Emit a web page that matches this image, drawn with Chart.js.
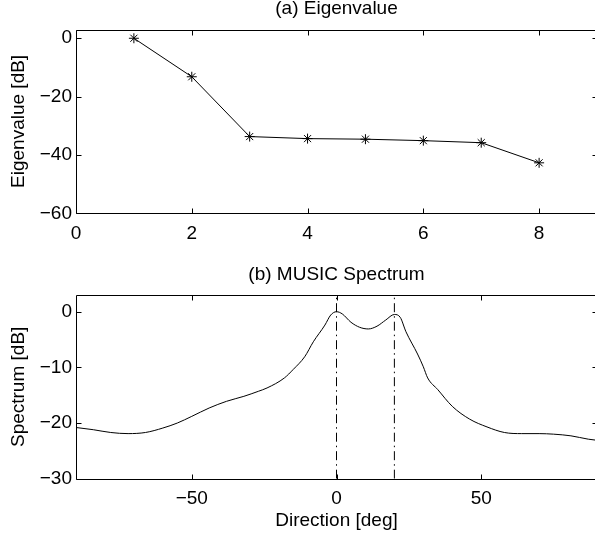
<!DOCTYPE html>
<html>
<head>
<meta charset="utf-8">
<script src="https://cdn.jsdelivr.net/npm/chart.js@4"></script>
<style>
  html, body { margin: 0; padding: 0; background: #fff; overflow: hidden; width: 595px; height: 537px; }
  canvas { position: absolute; left: 0; }
  #eig { top: 0; }
  #music { top: 260px; }
</style>
</head>
<body>
<canvas id="eig" width="640" height="260"></canvas>
<canvas id="music" width="640" height="277"></canvas>
<script>
// (a) eigenvalues of the covariance matrix, in dB
const eigIndex = [1, 2, 3, 4, 5, 6, 7, 8];
const eigValues = [0, -13.2, -33.7, -34.4, -34.6, -35.1, -35.8, -42.7];
const eigXTicks = [0, 2, 4, 6, 8];
const eigYTicks = [-60, -40, -20, 0];

// (b) MUSIC pseudo-spectrum over direction, in dB
const directions = [-90, -84, -78, -72, -66, -60, -55, -50, -44, -38, -32, -27, -24, -18, -15, -11, -8, -4, -2, 0,
  2, 5, 8, 11, 14, 17, 20, 22, 24, 28, 30, 31.5, 35, 40, 46, 52, 58, 64, 70, 75, 81, 87, 90];
const spectrum = [-20.8, -21.2, -21.7, -21.9, -21.7, -20.9, -20.0, -18.8, -17.3, -16.1, -15.2, -14.3, -13.7, -11.9,
  -10.4, -8.1, -5.4, -2.4, -0.6, 0, -0.4, -1.9, -2.8, -3.1, -2.6, -1.5, -0.5, -1.0, -3.6, -7.6, -9.9, -11.9, -14.0,
  -17.0, -19.3, -20.7, -21.7, -21.9, -21.9, -22.0, -22.3, -22.9, -23.1];
const peakDirections = [0, 20];
const musicXTicks = [-50, 0, 50];
const musicYTicks = [-30, -20, -10, 0];

const FONT = { family: '"Liberation Sans", Arial, Helvetica, sans-serif', size: 19 };
const INK = '#000';

const fmt = (v) => (v < 0 ? '\u2212' + Math.abs(v) : String(v));

// Boxed axes with inward ticks on all four sides, plus a title above the box
function boxPlugin(titleText, titleBaseline) {
  return {
    id: 'box',
    afterDraw(chart) {
      const { ctx, chartArea: a, scales } = chart;
      const L = Math.round(a.left) + 0.5, R = Math.round(a.right) + 0.5;
      const T = Math.round(a.top) + 0.5, B = Math.round(a.bottom) + 0.5;
      const len = 5;
      ctx.save();
      ctx.strokeStyle = INK;
      ctx.lineWidth = 1;
      ctx.beginPath();
      ctx.rect(L, T, R - L, B - T);
      scales.x.ticks.forEach((t) => {
        const px = Math.round(scales.x.getPixelForValue(t.value)) + 0.5;
        ctx.moveTo(px, B); ctx.lineTo(px, B - len);
        ctx.moveTo(px, T); ctx.lineTo(px, T + len);
      });
      scales.y.ticks.forEach((t) => {
        const py = Math.round(scales.y.getPixelForValue(t.value)) + 0.5;
        ctx.moveTo(L, py); ctx.lineTo(L + len, py);
        ctx.moveTo(R, py); ctx.lineTo(R - len, py);
      });
      ctx.stroke();
      ctx.fillStyle = INK;
      ctx.font = FONT.size + 'px ' + FONT.family;
      ctx.textAlign = 'center';
      ctx.textBaseline = 'alphabetic';
      ctx.fillText(titleText, (a.left + a.right) / 2, titleBaseline);
      ctx.restore();
    }
  };
}

function axes(cfg) {
  return {
    x: {
      type: 'linear', min: cfg.xMin, max: cfg.xMax,
      afterBuildTicks: (s) => { s.ticks = cfg.xTicks.map((v) => ({ value: v })); },
      afterFit: (s) => { s.height = cfg.xHeight; },
      grid: { display: false, drawTicks: false },
      border: { display: false },
      ticks: { color: INK, font: FONT, padding: cfg.xPad, maxRotation: 0, autoSkip: false, callback: fmt },
      title: cfg.xTitle ? { display: true, text: cfg.xTitle, color: INK, font: FONT, padding: { top: 0, bottom: 5 } } : { display: false }
    },
    y: {
      type: 'linear', min: cfg.yMin, max: cfg.yMax,
      afterBuildTicks: (s) => { s.ticks = cfg.yTicks.map((v) => ({ value: v })); },
      afterFit: (s) => { s.width = 76; },
      grid: { display: false, drawTicks: false },
      border: { display: false },
      ticks: { color: INK, font: FONT, padding: 4, autoSkip: false, callback: fmt },
      title: { display: true, text: cfg.yTitle, color: INK, font: FONT, padding: { top: 7, bottom: 0 } }
    }
  };
}

new Chart(document.getElementById('eig'), {
  type: 'line',
  data: {
    datasets: [{
      data: eigIndex.map((x, i) => ({ x, y: eigValues[i] })),
      borderColor: INK, borderWidth: 1, tension: 0,
      pointStyle: 'star', pointRadius: 5, pointBorderColor: INK, pointBorderWidth: 1,
      pointBackgroundColor: INK
    }]
  },
  options: {
    responsive: false, animation: false, events: [],
    layout: { padding: { top: 29.5, right: 43, left: 0, bottom: 0 } },
    plugins: { legend: { display: false }, tooltip: { enabled: false }, title: { display: false } },
    scales: axes({ xMin: 0, xMax: 9, xTicks: eigXTicks, xHeight: 46.7, xPad: 9,
      yMin: -60, yMax: 3, yTicks: eigYTicks, yTitle: 'Eigenvalue [dB]' })
  },
  plugins: [boxPlugin('(a) Eigenvalue', 14.3)]
});

new Chart(document.getElementById('music'), {
  type: 'line',
  data: {
    datasets: [
      {
        data: directions.map((x, i) => ({ x, y: spectrum[i] })),
        borderColor: INK, borderWidth: 1, cubicInterpolationMode: 'monotone', pointRadius: 0
      },
      ...peakDirections.map((d) => ({
        data: [{ x: d, y: -30 }, { x: d, y: 3 }],
        borderColor: INK, borderWidth: 1, borderDash: [9, 4, 1.5, 4], pointRadius: 0, tension: 0
      }))
    ]
  },
  options: {
    responsive: false, animation: false, events: [],
    layout: { padding: { top: 35, right: 43, left: 0, bottom: 0 } },
    plugins: { legend: { display: false }, tooltip: { enabled: false }, title: { display: false } },
    scales: axes({ xMin: -90, xMax: 90, xTicks: musicXTicks, xHeight: 58.3, xPad: 9, xTitle: 'Direction [deg]',
      yMin: -30, yMax: 3, yTicks: musicYTicks, yTitle: 'Spectrum [dB]' })
  },
  plugins: [boxPlugin('(b) MUSIC Spectrum', 19.8)]
});
</script>
</body>
</html>
